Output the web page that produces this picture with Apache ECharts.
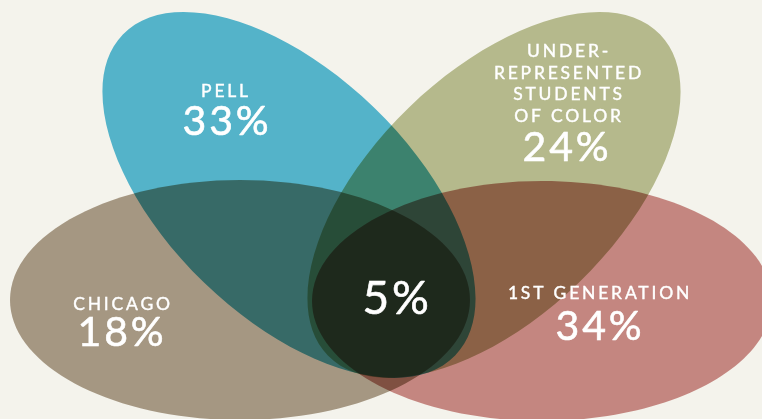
<!DOCTYPE html>
<html>
<head>
<meta charset="utf-8">
<script src="https://cdn.jsdelivr.net/npm/echarts@6/dist/echarts.min.js"></script>
<style>
  html, body { margin: 0; padding: 0; background: #f4f3ec; }
  #chart { width: 762px; height: 419px; letter-spacing: 2.8px; }
</style>
</head>
<body>
<div id="chart"></div>
<script>
// groups of the venn, one ellipse each
const groups = ['Pell', 'Under-represented students of color', 'Chicago', '1st generation'];
const centerX = [289, 494, 240, 542];
const centerY = [195, 195, 300, 301];
const radiusX = [231, 231, 230, 230];
const radiusY = [122, 122, 120, 120];
const tilt = [44, -44, 0, 0]; // degrees, clockwise

// labels (last one is the overlap of all four)
const labelNames = ['PELL', 'UNDER-\nREPRESENTED\nSTUDENTS\nOF COLOR', 'CHICAGO', '1ST GENERATION', ''];
const shares = ['33%', '24%', '18%', '34%', '5%'];
const nameX = [226, 569, 123, 600, 396];
const nameY = [91, 84, 304, 293, 0];
const shareX = [227, 567, 122, 600, 397];
const shareY = [122, 148, 333, 327, 299];

const colors = ['#54b3c9', '#b5b98c', '#a59782', '#c48680'];

const chart = echarts.init(document.getElementById('chart'));

const ellipseData = groups.map((g, i) => ({
  name: g,
  value: [centerX[i], centerY[i], radiusX[i], radiusY[i], tilt[i]]
}));
const labelData = shares.map((s, i) => ({
  name: s,
  value: [nameX[i], nameY[i], shareX[i], shareY[i]]
}));

const font = 'Lato, "Open Sans", sans-serif';

chart.setOption({
  animation: false,
  backgroundColor: 'transparent',
  grid: { left: 0, right: 0, top: 0, bottom: 0 },
  xAxis: { type: 'value', min: 0, max: 762, show: false },
  yAxis: { type: 'value', min: 0, max: 419, inverse: true, show: false },
  series: [
    {
      type: 'custom',
      blendMode: 'multiply',
      data: ellipseData,
      renderItem: (params, api) => {
        const c = api.coord([api.value(0), api.value(1)]);
        const s = api.size([api.value(2), api.value(3)]);
        return {
          type: 'ellipse',
          x: c[0],
          y: c[1],
          rotation: -api.value(4) * Math.PI / 180,
          shape: { cx: 0, cy: 0, rx: s[0], ry: s[1] },
          style: { fill: colors[params.dataIndex], blend: 'multiply' }
        };
      }
    },
    {
      type: 'custom',
      data: labelData,
      z: 10,
      renderItem: (params, api) => {
        const i = params.dataIndex;
        const n = api.coord([api.value(0), api.value(1)]);
        const p = api.coord([api.value(2), api.value(3)]);
        const big = i === 4 ? 46 : 41;
        return {
          type: 'group',
          children: [
            {
              type: 'text',
              x: n[0], y: n[1],
              style: {
                text: labelNames[i], fill: '#ffffff', font: '17.5px ' + font,
                stroke: '#ffffff', lineWidth: 0.4,
                align: 'center', verticalAlign: 'middle', lineHeight: 21.5
              }
            },
            {
              type: 'text',
              x: p[0], y: p[1],
              style: {
                text: shares[i], fill: '#ffffff', font: big + 'px ' + font,
                stroke: '#ffffff', lineWidth: 0.6,
                align: 'center', verticalAlign: 'middle'
              }
            }
          ]
        };
      }
    }
  ]
});

window.addEventListener('resize', () => chart.resize());
</script>
</body>
</html>
